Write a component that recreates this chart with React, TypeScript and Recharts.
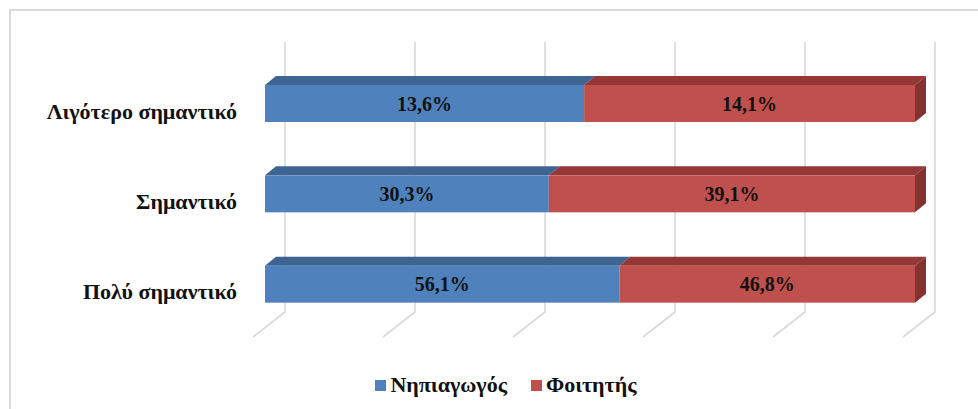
import { BarChart, Bar, XAxis, YAxis, CartesianGrid, LabelList } from 'recharts'

const categories = ['Λιγότερο σημαντικό', 'Σημαντικό', 'Πολύ σημαντικό']
const teacher = [13.6, 30.3, 56.1]
const student = [14.1, 39.1, 46.8]
const shareTicks = [0, 0.2, 0.4, 0.6, 0.8, 1]

const series = [
  { key: 'teacher', name: 'Νηπιαγωγός', front: '#4f81bd', top: '#3e6592', side: '#365a84' },
  { key: 'student', name: 'Φοιτητής', front: '#c0504d', top: '#953735', side: '#843230' },
]

const data = categories.map((name, i) => ({ name, teacher: teacher[i], student: student[i] }))

// depth of the bars and of the floor
const DX = 11
const DY = -9
const WALL_SHIFT = 20
const FLOOR_SHIFT = -12

const serif = '"Liberation Serif", "Times New Roman", serif'

function makeShape(s: (typeof series)[number], last: boolean) {
  // eslint-disable-next-line @typescript-eslint/no-explicit-any
  return (p: any) => {
    const { x, y, width: w, height: h } = p
    const topFace = `M${x},${y} L${x + DX},${y + DY} L${x + w + DX},${y + DY} L${x + w},${y} Z`
    const sideFace = `M${x + w},${y} L${x + w + DX},${y + DY} L${x + w + DX},${y + h + DY} L${x + w},${y + h} Z`
    return (
      <g>
        <path d={topFace} fill={s.top} />
        {last && <path d={sideFace} fill={s.side} />}
        <rect x={x} y={y} width={w} height={h} fill={s.front} />
      </g>
    )
  }
}

// back wall line plus its run across the floor
// eslint-disable-next-line @typescript-eslint/no-explicit-any
const gridLine = (p: any) => {
  const { x1, y1, y2 } = p
  const d = `M${x1 + WALL_SHIFT},${y1 - 16} L${x1 + WALL_SHIFT},${y2 - 17} L${x1 + FLOOR_SHIFT},${y2 + 8}`
  return <path key={p.key ?? `g${x1}`} d={d} fill="none" stroke="#d9d9d9" strokeWidth={1.6} />
}

// eslint-disable-next-line @typescript-eslint/no-explicit-any
const valueLabel = (p: any) => {
  const { x, y, width, height, value } = p
  return (
    <text
      x={x + width / 2}
      y={y + height / 2}
      textAnchor="middle"
      dominantBaseline="central"
      style={{ fontFamily: serif, fontWeight: 700, fontSize: 20, fill: '#111' }}
    >
      {`${Number(value).toFixed(1).replace('.', ',')}%`}
    </text>
  )
}

// eslint-disable-next-line @typescript-eslint/no-explicit-any
const categoryTick = (p: any) => (
  <text
    x={p.x}
    y={p.y + 8}
    textAnchor="end"
    dominantBaseline="central"
    style={{ fontFamily: serif, fontWeight: 700, fontSize: 22, fill: '#111' }}
  >
    {p.payload.value}
  </text>
)

export default function App() {
  return (
    <div style={{ position: 'absolute', left: 0, top: 0, width: 978, height: 409, overflow: 'hidden', background: '#fff' }}>
      <div
        style={{
          position: 'absolute', left: 9, top: 9, width: 1000, height: 500,
          borderLeft: '2px solid #d9d9d9', borderTop: '2px solid #d9d9d9',
        }}
      />
      <div style={{ position: 'absolute', left: 0, top: 0 }}>
        <BarChart
          width={978}
          height={409}
          data={data}
          layout="vertical"
          stackOffset="expand"
          barSize={37}
          margin={{ top: 58, right: 63, bottom: 80, left: 0 }}
        >
          <CartesianGrid horizontal={false} vertical={gridLine} />
          <XAxis type="number" domain={[0, 1]} ticks={shareTicks} hide />
          <YAxis
            type="category"
            dataKey="name"
            width={265}
            axisLine={false}
            tickLine={false}
            tickSize={0}
            tickMargin={28}
            tick={categoryTick}
          />
          {series.map((s, i) => (
            <Bar
              key={s.key}
              dataKey={s.key}
              name={s.name}
              stackId="a"
              fill={s.front}
              shape={makeShape(s, i === series.length - 1)}
              isAnimationActive={false}
            >
              <LabelList dataKey={s.key} content={valueLabel} />
            </Bar>
          ))}
        </BarChart>
      </div>
      <div
        style={{
          position: 'absolute', left: 0, top: 372, width: 978,
          display: 'flex', justifyContent: 'center', gap: 24,
          fontFamily: serif, fontWeight: 700, fontSize: 22, color: '#111', lineHeight: '26px',
          paddingLeft: 34, boxSizing: 'border-box',
        }}
      >
        {series.map((s) => (
          <span key={s.key} style={{ display: 'flex', alignItems: 'center' }}>
            <span style={{ display: 'inline-block', width: 11, height: 11, background: s.front, marginRight: 4 }} />
            {s.name}
          </span>
        ))}
      </div>
    </div>
  )
}
